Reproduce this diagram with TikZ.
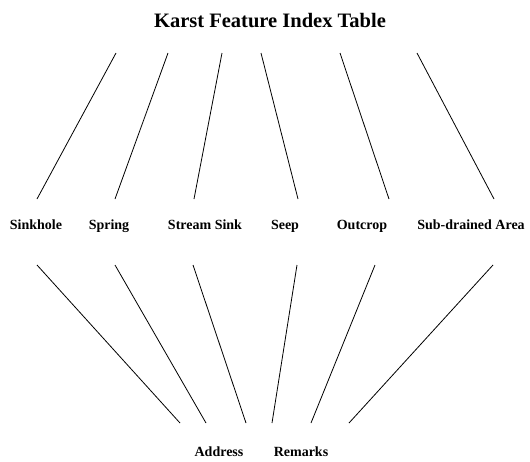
\documentclass[tikz,border=0pt]{standalone}
\usepackage{fontspec}
\setmainfont{Liberation Serif}
\begin{document}
\begin{tikzpicture}[x=1pt,y=-1pt,
  lbl/.style={font=\bfseries\fontsize{14}{16}\selectfont, inner sep=0pt, anchor=base},
  ttl/.style={font=\bfseries\fontsize{20.5}{24}\selectfont, inner sep=0pt, anchor=base},
  edge/.style={draw=black, line width=0.8pt}]
\useasboundingbox (0,0) rectangle (530,461);
% title
\node[ttl] (title) at (270,27) {Karst Feature Index Table};
% features
\node[lbl] (sinkhole) at (36,229.5) {Sinkhole};
\node[lbl] (spring) at (109,229.5) {Spring};
\node[lbl] (stream) at (205,229.5) {Stream Sink};
\node[lbl] (seep) at (285,229.5) {Seep};
\node[lbl] (outcrop) at (362,229.5) {Outcrop};
\node[lbl] (subdrained) at (471,229.5) {Sub-drained Area};
% bottom
\node[lbl] (address) at (219,456.5) {Address};
\node[lbl] (remarks) at (301,456.5) {Remarks};
% edge end coordinates
\coordinate (t1) at (116,53);
\coordinate (t2) at (168,53);
\coordinate (t3) at (222,53);
\coordinate (t4) at (261,53);
\coordinate (t5) at (340,53);
\coordinate (t6) at (417,53);
\coordinate (a1) at (37,199);
\coordinate (a2) at (115,199);
\coordinate (a3) at (194,199);
\coordinate (a4) at (298,199);
\coordinate (a5) at (389,199);
\coordinate (a6) at (494,199);
\coordinate (b1) at (37,265);
\coordinate (b2) at (115,265);
\coordinate (b3) at (193,265);
\coordinate (b4) at (297,265);
\coordinate (b5) at (375,265);
\coordinate (b6) at (493,265);
\coordinate (c1) at (180,423);
\coordinate (c2) at (206,423);
\coordinate (c3) at (246,423);
\coordinate (c4) at (272,423);
\coordinate (c5) at (311,423);
\coordinate (c6) at (349,423);
\foreach \i in {1,...,6} {
  \draw[edge] (t\i) -- (a\i);
  \draw[edge] (b\i) -- (c\i);
}
\end{tikzpicture}
\end{document}
